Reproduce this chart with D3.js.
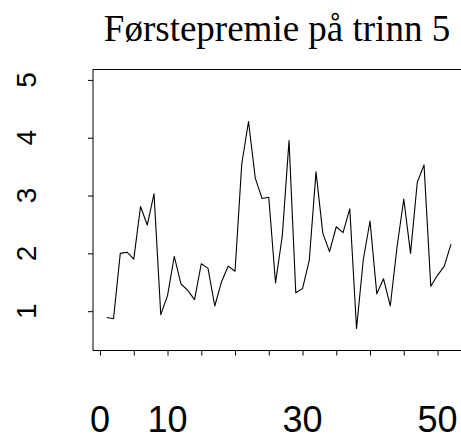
<!DOCTYPE html>
<html>
<head>
<meta charset="utf-8">
<script src="https://cdnjs.cloudflare.com/ajax/libs/d3/7.8.5/d3.min.js"></script>
<style>
  body { margin: 0; background: #fff; }
  svg { display: block; }
</style>
</head>
<body>
<div id="chart"></div>
<script>
  var WIDTH = 461;
  var HEIGHT = 435;

  var title = "Førstepremie på trinn 5";

  // premie per trinn, trekning 1..52
  var values = [
    0.89, 0.87, 2.00, 2.02, 1.90, 2.81, 2.49, 3.03, 0.94, 1.27,
    1.95, 1.47, 1.36, 1.20, 1.82, 1.74, 1.09, 1.51, 1.78, 1.69,
    3.55, 4.28, 3.30, 2.95, 2.97, 1.49, 2.30, 3.95, 1.32, 1.39,
    1.88, 3.41, 2.35, 2.03, 2.46, 2.36, 2.77, 0.70, 1.89, 2.56,
    1.30, 1.56, 1.09, 2.11, 2.94, 2.00, 3.23, 3.53, 1.43, 1.62,
    1.78, 2.16
  ];
  var xTicks = [0, 5, 10, 15, 20, 25, 30, 35, 40, 45, 50];
  var xTickLabels = ["0", "10", "30", "50"];
  var yTicks = [1, 2, 3, 4, 5];

  var xDomain = [-1.04, 54.04];
  var yDomain = [0.32, 5.18];

  var PLOT_LEFT = 93;
  var PLOT_RIGHT = 464.8;
  var PLOT_TOP = 69.5;
  var PLOT_BOTTOM = 350.5;

  var svg = d3.select("#chart").append("svg")
    .attr("width", WIDTH)
    .attr("height", HEIGHT);

  var x = d3.scaleLinear().domain(xDomain).range([PLOT_LEFT, PLOT_RIGHT]);
  var y = d3.scaleLinear().domain(yDomain).range([PLOT_BOTTOM, PLOT_TOP]);

  // tittel
  svg.append("text")
    .attr("x", 277)
    .attr("y", 41)
    .attr("text-anchor", "middle")
    .style("font", "37px 'Liberation Serif', 'Times New Roman', serif")
    .text(title);

  // boks
  svg.append("rect")
    .attr("x", PLOT_LEFT)
    .attr("y", PLOT_TOP)
    .attr("width", PLOT_RIGHT - PLOT_LEFT)
    .attr("height", PLOT_BOTTOM - PLOT_TOP)
    .style("fill", "none")
    .style("stroke", "#000")
    .style("stroke-width", 1);

  // x-akse
  var xAxis = d3.axisBottom(x)
    .tickValues(xTicks)
    .tickSize(5)
    .tickFormat("");
  var gx = svg.append("g")
    .attr("transform", "translate(0," + PLOT_BOTTOM + ")")
    .call(xAxis);
  gx.select(".domain").remove();

  svg.selectAll("text.xlab")
    .data(xTickLabels)
    .enter().append("text")
    .classed("xlab", true)
    .attr("x", function (d) { return x(+d); })
    .attr("y", 432)
    .attr("text-anchor", "middle")
    .style("font", "36px 'Liberation Sans', Arial, sans-serif")
    .text(function (d) { return d; });

  // y-akse
  var yAxis = d3.axisLeft(y)
    .tickValues(yTicks)
    .tickSize(5)
    .tickFormat("");
  var gy = svg.append("g")
    .attr("transform", "translate(" + PLOT_LEFT + ",0)")
    .call(yAxis);
  gy.select(".domain").remove();

  svg.selectAll("text.ylab")
    .data(yTicks)
    .enter().append("text")
    .classed("ylab", true)
    .attr("transform", function (d) { return "translate(36," + y(d) + ") rotate(-90)"; })
    .attr("text-anchor", "middle")
    .style("font", "28px 'Liberation Sans', Arial, sans-serif")
    .text(function (d) { return d; });

  // linje
  var line = d3.line()
    .x(function (d, i) { return x(i + 1); })
    .y(function (d) { return y(d); });

  svg.append("path")
    .datum(values)
    .attr("d", line)
    .style("fill", "none")
    .style("stroke", "#000")
    .style("stroke-width", 1.1)
    .style("stroke-linejoin", "round");
</script>
</body>
</html>
